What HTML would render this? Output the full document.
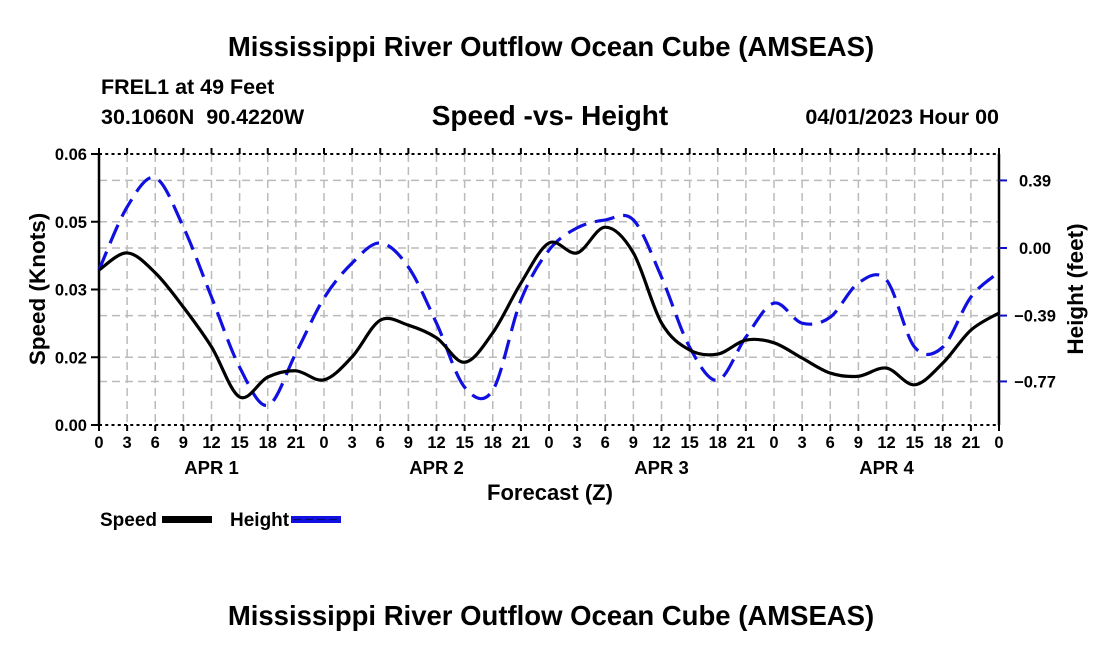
<!DOCTYPE html>
<html><head><meta charset="utf-8"><style>
body{margin:0;background:#fff;}
svg text{font-family:"Liberation Sans",Arial,sans-serif;font-weight:bold;fill:#000;}
</style></head><body>
<svg width="1100" height="650" viewBox="0 0 1100 650" xmlns="http://www.w3.org/2000/svg">
<text x="551" y="56" font-size="27.5" text-anchor="middle">Mississippi River Outflow Ocean Cube (AMSEAS)</text>
<text x="101" y="94" font-size="21.5">FREL1 at 49 Feet</text>
<text x="101" y="124" font-size="21.5" xml:space="preserve">30.1060N  90.4220W</text>
<text x="550" y="125" font-size="28" text-anchor="middle">Speed -vs- Height</text>
<text x="999" y="124" font-size="21.5" text-anchor="end">04/01/2023 Hour 00</text>
<g id="grid"></g>
<g id="axes"></g>
<g id="series"></g>
<text transform="translate(45,289) rotate(-90)" font-size="22.5" text-anchor="middle">Speed (Knots)</text>
<text transform="translate(1083,289) rotate(-90)" font-size="22.5" text-anchor="middle">Height (feet)</text>
<text x="550" y="500" font-size="22" text-anchor="middle">Forecast (Z)</text>
<g>
<text x="100" y="526" font-size="19">Speed</text>
<rect x="162" y="516" width="50" height="7" fill="#000"/>
<text x="230" y="526" font-size="19">Height</text>
<rect x="291" y="516" width="50" height="7" fill="#1010e0"/>
<line x1="293" y1="519.5" x2="341" y2="519.5" stroke="#000" stroke-width="1" stroke-dasharray="8 4" opacity="0.5"/>
</g>
<text x="551" y="625" font-size="27.5" text-anchor="middle">Mississippi River Outflow Ocean Cube (AMSEAS)</text>
</svg>
<script>
const hours = [0,3,6,9,12,15,18,21,24,27,30,33,36,39,42,45,48,51,54,57,60,63,66,69,72,75,78,81,84,87,90,93,96];
const speedValues = [0.0343,0.0381,0.0337,0.0261,0.0173,0.0062,0.0106,0.0120,0.0100,0.0151,0.0232,0.0221,0.0193,0.0139,0.0204,0.0314,0.0403,0.0381,0.0438,0.0381,0.0226,0.0166,0.0157,0.0188,0.0182,0.0148,0.0115,0.0108,0.0126,0.0089,0.0137,0.0210,0.0248];
const heightValues = [-0.127,0.237,0.405,0.121,-0.283,-0.688,-0.908,-0.607,-0.289,-0.087,0.029,-0.110,-0.434,-0.803,-0.821,-0.301,-0.012,0.116,0.162,0.162,-0.168,-0.572,-0.763,-0.514,-0.318,-0.434,-0.399,-0.202,-0.185,-0.572,-0.572,-0.283,-0.139];
const leftTickVals = [0,0.015,0.03,0.045,0.06];
const leftTickLabels = ["0.00","0.02","0.03","0.05","0.06"];
const rightTickVals = [0.39,0,-0.39,-0.77];
const rightTickLabels = ["0.39","0.00","\u22120.39","\u22120.77"];
const xTickLabels = ["0","3","6","9","12","15","18","21"];
const dayLabels = ["APR 1","APR 2","APR 3","APR 4"];

const NS="http://www.w3.org/2000/svg";
const X0=99,X1=999,YT=154,YB=425;
const xs=h=>X0+(X1-X0)*h/96;
const ys=v=>YB-(YB-YT)*v/0.06;
const yh=v=>248-v*173.3;
function mk(tag,attrs,parent){const e=document.createElementNS(NS,tag);for(const k in attrs)e.setAttribute(k,attrs[k]);parent.appendChild(e);return e;}
const grid=document.getElementById('grid'),axes=document.getElementById('axes'),series=document.getElementById('series');

for(let h=3;h<96;h+=3){const l=mk('line',{x1:xs(h),x2:xs(h),y1:YT,y2:YB,stroke:'#bbb','stroke-width':1.5,'stroke-dasharray':'8 5'},grid);

}
const hg=[...leftTickVals.map(ys),...rightTickVals.map(yh)];
hg.forEach(y=>{if(y<=YT+1||y>=YB-1)return;const l=mk('line',{x1:X0,x2:X1,y1:y,y2:y,stroke:'#bbb','stroke-width':1.5,'stroke-dasharray':'8 5'},grid);

});

[[X0,YT,X0,YB],[X1,YT,X1,YB]].forEach(a=>{const l=mk('line',{x1:a[0],y1:a[1],x2:a[2],y2:a[3],stroke:'#000','stroke-width':2.5},axes);

});
[YT,YB].forEach(y=>{const l=mk('line',{x1:X0,y1:y,x2:X1,y2:y,stroke:'#000','stroke-width':2,'stroke-dasharray':'3 3.25'},axes);

});
for(let h=0;h<=96;h+=3){[[YB,YB+6],[YT-6,YT]].forEach(p=>{const t=mk('line',{x1:xs(h),x2:xs(h),y1:p[0],y2:p[1],stroke:'#000','stroke-width':2},axes);

});
const lab=mk('text',{x:xs(h),y:448,'font-size':16.5,'text-anchor':'middle'},axes);
lab.textContent=xTickLabels[(h/3)%8];

}
dayLabels.forEach((d,i)=>{const t=mk('text',{x:xs(i*24+12),y:474,'font-size':18.5,'text-anchor':'middle'},axes);
t.textContent=d;

});
leftTickVals.forEach((v,i)=>{const y=ys(v);const t=mk('line',{x1:X0-8,x2:X0,y1:y,y2:y,stroke:'#000','stroke-width':2},axes);


const l=mk('text',{x:87,y:y+6,'font-size':16.5,'text-anchor':'end'},axes);
l.textContent=leftTickLabels[i];

});
rightTickVals.forEach((v,i)=>{const y=yh(v);const t=mk('line',{x1:X1,x2:X1+8,y1:y,y2:y,stroke:'#1010c0','stroke-width':2},axes);


const l=mk('text',{x:1035,y:y+6,'font-size':16.5,'text-anchor':'middle'},axes);
l.textContent=rightTickLabels[i];

});

function smooth(pts){let d='M'+pts[0][0]+','+pts[0][1];
for(let i=0;i<pts.length-1;i++){const p0=pts[i-1]||pts[i],p1=pts[i],p2=pts[i+1],p3=pts[i+2]||p2;
const c1=[p1[0]+(p2[0]-p0[0])/6,p1[1]+(p2[1]-p0[1])/6],c2=[p2[0]-(p3[0]-p1[0])/6,p2[1]-(p3[1]-p1[1])/6];
d+=' C'+c1[0]+','+c1[1]+' '+c2[0]+','+c2[1]+' '+p2[0]+','+p2[1];}return d;}
const hp=mk('path',{d:smooth(hours.map((h,i)=>[xs(h),yh(heightValues[i])])),fill:'none',stroke:'#1010e0','stroke-width':3.2,'stroke-dasharray':'20 9'},series);


const sp=mk('path',{d:smooth(hours.map((h,i)=>[xs(h),ys(speedValues[i])])),fill:'none',stroke:'#000','stroke-width':3.2},series);


</script>
</body></html>
